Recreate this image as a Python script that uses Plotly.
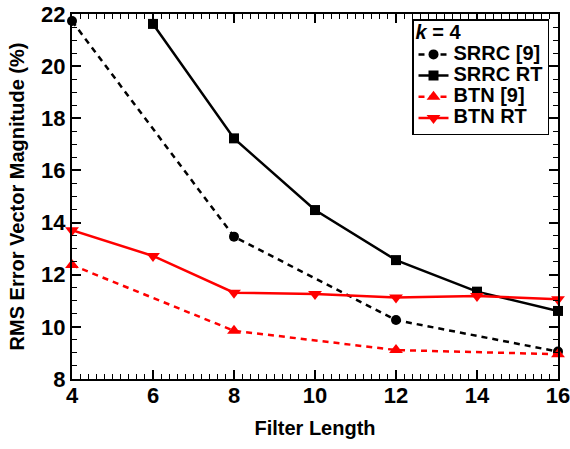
import plotly.graph_objects as go

x_sparse = [4, 8, 12, 16]
x_srrc_rt = [6, 8, 10, 12, 14, 16]
x_btn_rt = [4, 6, 8, 10, 12, 14, 16]

srrc_ref = [21.73, 13.46, 10.26, 9.05]
srrc_rt = [21.62, 17.23, 14.48, 12.56, 11.35, 10.61]
btn_ref = [12.37, 9.85, 9.11, 8.95]
btn_rt = [13.71, 12.72, 11.31, 11.26, 11.13, 11.18, 11.06]

names = ["SRRC [9]", "SRRC RT", "BTN [9]", "BTN RT"]

FONT = "Liberation Sans, Arial, Helvetica, sans-serif"


def big(s):
    return '<span style="font-size:20px">' + s + '</span>'


fig = go.Figure()
fig.add_trace(go.Scatter(x=x_sparse, y=srrc_ref, name=big(names[0]), mode="lines+markers",
                         line=dict(color="black", width=2.5, dash="6px,5px"),
                         marker=dict(symbol="circle", size=10, color="black"), cliponaxis=False))
fig.add_trace(go.Scatter(x=x_srrc_rt, y=srrc_rt, name=big(names[1]), mode="lines+markers",
                         line=dict(color="black", width=2.5),
                         marker=dict(symbol="square", size=10, color="black"), cliponaxis=False))
fig.add_trace(go.Scatter(x=x_sparse, y=btn_ref, name=big(names[2]), mode="lines+markers",
                         line=dict(color="#ff0000", width=2.5, dash="6px,5px"),
                         marker=dict(symbol="triangle-up", size=12, color="#ff0000"), cliponaxis=False))
fig.add_trace(go.Scatter(x=x_btn_rt, y=btn_rt, name=big(names[3]), mode="lines+markers",
                         line=dict(color="#ff0000", width=2.5),
                         marker=dict(symbol="triangle-down", size=12, color="#ff0000"), cliponaxis=False))

axis_common = dict(showgrid=False, zeroline=False, showline=True, linecolor="black", linewidth=2,
                   mirror="allticks", ticks="inside", ticklen=9, tickwidth=1.5, tickcolor="black",
                   automargin=False, ticklabeloverflow="allow",
                   tickfont=dict(family=FONT, size=22, color="black", weight="bold"))

fig.update_xaxes(range=[4, 16], tickvals=[4, 6, 8, 10, 12, 14, 16],
                 minor=dict(dtick=0.2, ticks="inside", ticklen=5, tickwidth=1.2, tickcolor="black"),
                 title=dict(text="Filter Length", font=dict(family=FONT, size=20, color="black", weight="bold"),
                            standoff=14),
                 ticklabelstandoff=-4,
                 **axis_common)
fig.update_yaxes(range=[8, 22], tickvals=[8, 10, 12, 14, 16, 18, 20, 22],
                 minor=dict(dtick=0.5, ticks="inside", ticklen=5, tickwidth=1.2, tickcolor="black"),
                 title=dict(text="RMS Error Vector Magnitude (%)",
                            font=dict(family=FONT, size=20, color="black", weight="bold"), standoff=11),
                 **axis_common)

fig.update_layout(
    width=570, height=449,
    margin=dict(l=72, r=12, t=14, b=70, autoexpand=False),
    plot_bgcolor="white", paper_bgcolor="white",
    font=dict(family=FONT, color="black", weight="bold"),
    hovermode=False,
    legend=dict(x=0.6996, y=0.986, xanchor="left", yanchor="top",
                bgcolor="white", bordercolor="black", borderwidth=1.5,
                font=dict(family=FONT, size=14, color="black", weight="bold"),
                title=dict(text=big("<i>k</i> = 4"), font=dict(family=FONT, size=14, color="black", weight="bold")),
                itemwidth=30, tracegroupgap=0),
    showlegend=True,
)

# remove the default 8px page margin so the figure fills the 570x449 window exactly
fig.write_html("out.html", config={"displayModeBar": False},
               post_script="document.body.style.margin='0';")
